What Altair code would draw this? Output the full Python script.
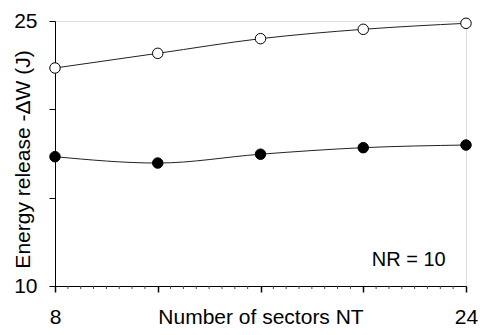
import altair as alt
import pandas as pd
import numpy as np

nt = [8, 12, 16, 20, 24]
open_vals = [22.34, 23.17, 24.0, 24.53, 24.87]
filled_vals = [17.32, 16.96, 17.46, 17.83, 17.98]
series_names = ["open", "filled"]
annotation = "NR = 10"

rows = []
for x, v in zip(nt, open_vals):
    rows.append({"NT": x, "W": v, "series": series_names[0]})
for x, v in zip(nt, filled_vals):
    rows.append({"NT": x, "W": v, "series": series_names[1]})
df = pd.DataFrame(rows)

minor = pd.DataFrame({"NT": [v for v in np.arange(8, 24.01, 0.5) if v % 4 != 0]})

FONT = "Liberation Sans"
W, H = 411, 265

xscale = alt.Scale(domain=[8, 24], nice=False, zero=False)
yscale = alt.Scale(domain=[10, 25], nice=False, zero=False)

xaxis = alt.Axis(
    values=[8, 12, 16, 20, 24],
    labelExpr="(datum.value == 8 || datum.value == 24) ? datum.label : ''",
    title="Number of sectors NT",
    grid=False, tickSize=6, tickWidth=1.5, labelPadding=31, labelBaseline="alphabetic",
    labelFontSize=21, titleFontSize=21,
    titleFontWeight="normal", titleY=37, titleBaseline="alphabetic",
    domainColor="black", tickColor="black", labelColor="black", titleColor="black",
    labelFont=FONT, titleFont=FONT, labelFlush=False,
)
yaxis = alt.Axis(
    values=[10, 15, 20, 25],
    labelExpr="(datum.value == 10 || datum.value == 25) ? datum.label : ''",
    title="Energy release -ΔW (J)",
    grid=False, tickSize=6, labelPadding=12, labelFontSize=21, titleFontSize=21,
    titleFontWeight="normal", titleX=-32, titleY=138, titleBaseline="middle",
    titleAngle=270,
    domainColor="black", tickColor="black", labelColor="black", titleColor="black",
    labelFont=FONT, titleFont=FONT, labelFlush=False,
)

base = alt.Chart(df)

lines = base.mark_line(color="#222", strokeWidth=1, interpolate="monotone").encode(
    x=alt.X("NT:Q", scale=xscale, axis=xaxis),
    y=alt.Y("W:Q", scale=yscale, axis=yaxis),
    detail="series:N",
)

pts = base.mark_point(filled=True, size=110, stroke="black", strokeWidth=1, opacity=1).encode(
    x=alt.X("NT:Q", scale=xscale),
    y=alt.Y("W:Q", scale=yscale),
    fill=alt.Fill("series:N", scale=alt.Scale(domain=series_names, range=["white", "black"]), legend=None),
)

minor_ticks = alt.Chart(minor).mark_rule(color="#444", strokeWidth=1).encode(
    x=alt.X("NT:Q", scale=xscale),
    y=alt.value(H),
    y2=alt.value(H + 3),
)

txt = alt.Chart(pd.DataFrame({"x": [21.77], "y": [11.47], "t": [annotation]})).mark_text(
    font=FONT, fontSize=20, color="black", align="center", baseline="middle"
).encode(
    x=alt.X("x:Q", scale=xscale),
    y=alt.Y("y:Q", scale=yscale),
    text="t:N",
)

chart = alt.layer(minor_ticks, lines, pts, txt).properties(
    width=W, height=H,
    autosize=alt.AutoSizeParams(type="none"),
    padding={"left": 47, "top": 13, "right": 12, "bottom": 41},
).configure_view(stroke=None).configure(background="white")

chart.save("out.html", embed_options={"renderer": "svg", "actions": False})
